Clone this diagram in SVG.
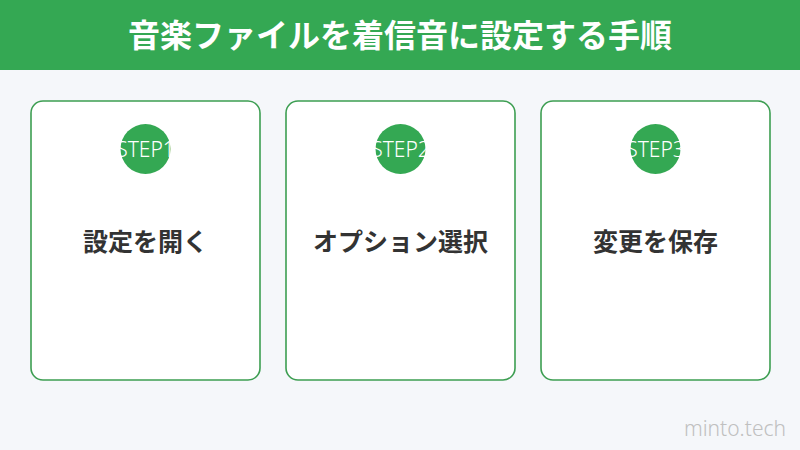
<svg xmlns="http://www.w3.org/2000/svg" width="800" height="450" viewBox="0 0 800 450">
<style>
.card{fill:#ffffff;stroke:#3d9e52;stroke-width:1.6}
.badge{fill:#34a853}
.step{font-family:"Noto Sans","Liberation Sans",sans-serif;font-size:21px;font-weight:300;fill:#ffffff;text-anchor:middle}
.lbl{font-family:"Noto Sans CJK JP","Noto Sans",sans-serif;font-size:25px;font-weight:700;fill:#333333;text-anchor:middle}
</style>
<rect width="800" height="450" fill="#f5f7fa"/>
<g id="header">
<rect x="0" y="0" width="800" height="70" fill="#34a853"/>
<text x="400" y="47" font-family="Noto Sans CJK JP,sans-serif" font-size="32" font-weight="700" fill="#ffffff" text-anchor="middle">音楽ファイルを着信音に設定する手順</text>
</g>
<g id="step1">
<rect class="card" x="31" y="101" width="229" height="279" rx="12"/>
<circle class="badge" cx="145.5" cy="149" r="25"/>
<text class="step" x="145.5" y="157">STEP1</text>
<text class="lbl" x="145.5" y="251">設定を開く</text>
</g>
<g id="step2">
<rect class="card" x="286" y="101" width="229" height="279" rx="12"/>
<circle class="badge" cx="400.5" cy="149" r="25"/>
<text class="step" x="400.5" y="157">STEP2</text>
<text class="lbl" x="400.5" y="251">オプション選択</text>
</g>
<g id="step3">
<rect class="card" x="541" y="101" width="229" height="279" rx="12"/>
<circle class="badge" cx="655.5" cy="149" r="25"/>
<text class="step" x="655.5" y="157">STEP3</text>
<text class="lbl" x="655.5" y="251">変更を保存</text>
</g>
<g id="connectors"/>
<text x="786" y="436" font-family="Noto Sans,sans-serif" font-size="21" font-weight="300" fill="#c0c0c0" text-anchor="end">minto.tech</text>
</svg>
